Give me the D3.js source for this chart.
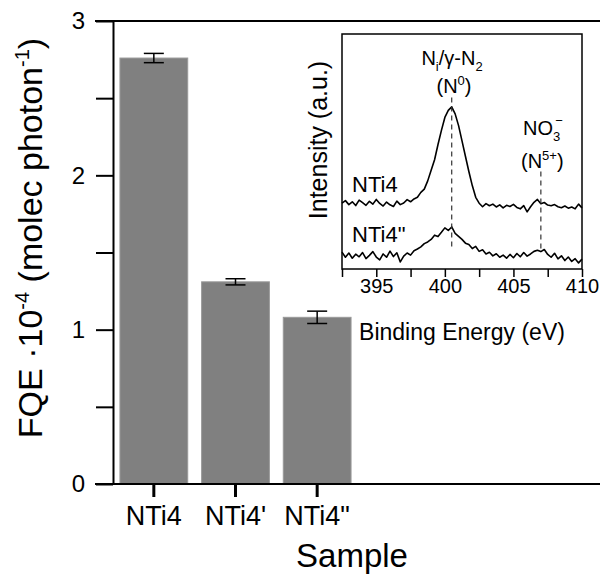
<!DOCTYPE html>
<html>
<head>
<meta charset="utf-8">
<script src="https://cdnjs.cloudflare.com/ajax/libs/d3/7.8.5/d3.min.js"></script>
<style>
  body { margin: 0; background: #fff; }
  #chart { width: 600px; height: 579px; }
  text { font-family: "Liberation Sans", Arial, sans-serif; fill: #000; }
</style>
</head>
<body>
<div id="chart"></div>
<script>
// main bar chart data
const samples = ["NTi4", "NTi4'", "NTi4\""];
const fqe = [2.76, 1.31, 1.08];
const fqeErr = [0.03, 0.02, 0.04];
const yTicks = [0, 0.5, 1, 1.5, 2, 2.5, 3];

// inset XPS spectra (N 1s)
const energy = [392.5, 392.75, 393, 393.25, 393.5, 393.75, 394, 394.25, 394.5, 394.75,
  395, 395.25, 395.5, 395.75, 396, 396.25, 396.5, 396.75, 397, 397.25,
  397.5, 397.75, 398, 398.25, 398.5, 398.75, 399, 399.25, 399.5, 399.75,
  400, 400.25, 400.5, 400.75, 401, 401.25, 401.5, 401.75, 402, 402.25,
  402.5, 402.75, 403, 403.25, 403.5, 403.75, 404, 404.25, 404.5, 404.75,
  405, 405.25, 405.5, 405.75, 406, 406.25, 406.5, 406.75, 407, 407.25,
  407.5, 407.75, 408, 408.25, 408.5, 408.75, 409, 409.25, 409.5, 409.75, 410];
const nti4 = [28.0, 29.1, 27.4, 28.6, 27.0, 29.3, 28.2, 27.1, 28.8, 27.6,
  29.6, 27.9, 26.8, 28.5, 27.3, 26.6, 28.9, 27.4, 28.1, 29.5,
  28.6, 29.8, 30.5, 32.6, 34.0, 37.5, 42.0, 46.5, 53.0, 59.0,
  64.5, 67.5, 69.0, 66.0, 61.0, 54.5, 48.0, 41.5, 35.5, 30.5,
  28.0, 26.5, 27.8, 26.9, 27.6, 26.4, 27.3, 26.0, 27.1, 26.6,
  27.5, 26.2, 25.6, 27.0, 24.3, 26.5, 28.4, 29.6, 27.8, 28.3,
  27.2, 26.9, 27.4, 26.5, 26.1, 26.8, 25.9, 26.4, 25.6, 27.6, 26.0];
const nti4b = [7.2, 5.0, 6.8, 4.6, 6.3, 5.2, 7.0, 4.4, 5.8, 7.4,
  5.1, 3.9, 6.4, 5.0, 7.6, 5.3, 6.9, 3.0, 5.5, 6.8,
  5.9, 7.8, 8.5, 9.4, 10.8, 11.5, 12.6, 14.4, 13.8, 15.6,
  17.5, 16.4, 17.9, 15.2, 13.9, 12.6, 11.0, 10.4, 8.7, 9.6,
  7.5, 8.2, 6.4, 7.1, 5.6, 6.5, 5.0, 5.9, 4.6, 6.2,
  4.8, 6.6, 5.2, 7.0, 5.5, 6.4, 7.5, 8.0, 7.4, 8.3,
  6.2, 5.0, 6.7, 4.3, 5.6, 3.6, 5.1, 3.2, 4.4, 2.6, 4.2];
const insetTicks = [392.5, 395, 397.5, 400, 402.5, 405, 407.5, 410];
const insetLabels = [395, 400, 405, 410];
const markerEnergy = [400.5, 407];
const markerTop = [73, 41.5];
const markerBottom = [8, 8];

const svg = d3.select("#chart").append("svg")
  .attr("width", 600)
  .attr("height", 579);

const y = d3.scaleLinear().domain([0, 3]).range([484, 21]);
const x = d3.scaleBand().domain(samples).range([113, 358])
  .paddingInner(0.17).paddingOuter(0.085);

// bars
svg.selectAll(".bar")
  .data(samples)
  .join("rect")
  .attr("class", "bar")
  .attr("x", d => x(d))
  .attr("width", x.bandwidth())
  .attr("y", (d, i) => y(fqe[i]))
  .attr("height", (d, i) => y(0) - y(fqe[i]))
  .attr("fill", "#808080")
  .attr("stroke", "#9a9a9a")
  .attr("stroke-width", 1);

// error bars
const err = svg.selectAll(".err")
  .data(samples)
  .join("g")
  .attr("class", "err")
  .attr("stroke", "#000")
  .attr("stroke-width", 1.5);
err.append("line")
  .attr("x1", d => x(d) + x.bandwidth() / 2)
  .attr("x2", d => x(d) + x.bandwidth() / 2)
  .attr("y1", (d, i) => y(fqe[i] - fqeErr[i]))
  .attr("y2", (d, i) => y(fqe[i] + fqeErr[i]));
[-1, 1].forEach(s => {
  err.append("line")
    .attr("x1", d => x(d) + x.bandwidth() / 2 - 10)
    .attr("x2", d => x(d) + x.bandwidth() / 2 + 10)
    .attr("y1", (d, i) => y(fqe[i] + s * fqeErr[i]))
    .attr("y2", (d, i) => y(fqe[i] + s * fqeErr[i]));
});

// y axis
svg.append("g")
  .attr("transform", "translate(113,0)")
  .call(d3.axisLeft(y).tickValues(yTicks).tickSize(17).tickSizeOuter(0).tickPadding(11)
    .tickFormat(d => Number.isInteger(d) ? d : ""))
  .call(g => g.attr("font-size", 24).attr("font-family", null))
  .call(g => g.selectAll("line, path").attr("stroke", "#000").attr("stroke-width", 2));

// top and bottom frame lines
svg.append("line")
  .attr("x1", 95).attr("x2", 600)
  .attr("y1", y(3)).attr("y2", y(3))
  .attr("stroke", "#000").attr("stroke-width", 2);
svg.append("line")
  .attr("x1", 95).attr("x2", 600)
  .attr("y1", y(0)).attr("y2", y(0))
  .attr("stroke", "#000").attr("stroke-width", 2);

// x axis
svg.append("g")
  .attr("transform", `translate(0,${y(0)})`)
  .call(d3.axisBottom(x).tickSize(13).tickSizeOuter(0).tickPadding(9))
  .call(g => g.select(".domain").remove())
  .call(g => g.attr("font-size", 27).attr("font-family", null))
  .call(g => g.selectAll("line").attr("stroke", "#000").attr("stroke-width", 3));

svg.append("text")
  .attr("x", 352)
  .attr("y", 567)
  .attr("text-anchor", "middle")
  .style("font-size", "33px")
  .text("Sample");

const yTitle = svg.append("text")
  .attr("transform", "translate(42,238) rotate(-90)")
  .attr("text-anchor", "middle")
  .style("font-size", "34px");
yTitle.append("tspan").text("FQE \u00b710");
yTitle.append("tspan").attr("dy", -13).style("font-size", "20px").text("-4");
yTitle.append("tspan").attr("dy", 13).text(" (molec photon");
yTitle.append("tspan").attr("dy", -13).style("font-size", "20px").text("-1");
yTitle.append("tspan").attr("dy", 13).text(")");

// ---- inset ----
const ix = d3.scaleLinear().domain([392.5, 410]).range([342, 582]);
const iy = d3.scaleLinear().domain([0, 100]).range([269, 34]);
const inset = svg.append("g");

inset.append("rect")
  .attr("x", 342).attr("y", 34)
  .attr("width", 240).attr("height", 235)
  .attr("fill", "#fff")
  .attr("stroke", "#000")
  .attr("stroke-width", 1.5);

inset.append("g")
  .attr("transform", "translate(0,269)")
  .call(d3.axisBottom(ix).tickValues(insetTicks).tickSize(8).tickSizeOuter(0).tickPadding(2)
    .tickFormat(d => insetLabels.includes(d) ? d : ""))
  .call(g => g.select(".domain").remove())
  .call(g => g.attr("font-size", 20).attr("font-family", null))
  .call(g => g.selectAll("line").attr("stroke", "#000").attr("stroke-width", 1.5));

const line = d3.line()
  .x((d, i) => ix(energy[i]))
  .y(d => iy(d));

[nti4, nti4b].forEach(s => {
  inset.append("path")
    .datum(s)
    .attr("d", line)
    .attr("fill", "none")
    .attr("stroke", "#000")
    .attr("stroke-width", 1.6)
    .attr("stroke-linejoin", "round");
});

markerEnergy.forEach((e, i) => {
  inset.append("line")
    .attr("x1", ix(e)).attr("x2", ix(e))
    .attr("y1", iy(markerTop[i])).attr("y2", iy(markerBottom[i]))
    .attr("stroke", "#333")
    .attr("stroke-width", 1.2)
    .attr("stroke-dasharray", "5,4");
});

inset.append("text").attr("x", 352).attr("y", 192).style("font-size", "22px").text("NTi4");
inset.append("text").attr("x", 352).attr("y", 242).style("font-size", "22px").text("NTi4\"");

const n0 = inset.append("text").attr("x", 452).attr("y", 65)
  .attr("text-anchor", "middle").style("font-size", "20px");
n0.append("tspan").text("N");
n0.append("tspan").attr("dy", 6).style("font-size", "13px").text("i");
n0.append("tspan").attr("dy", -6).text("/\u03b3-N");
n0.append("tspan").attr("dy", 6).style("font-size", "13px").text("2");

const n0b = inset.append("text").attr("x", 454).attr("y", 93)
  .attr("text-anchor", "middle").style("font-size", "20px");
n0b.append("tspan").text("(N");
n0b.append("tspan").attr("dy", -8).style("font-size", "13px").text("0");
n0b.append("tspan").attr("dy", 8).text(")");

const no3 = inset.append("text").attr("x", 523).attr("y", 135).style("font-size", "20px");
no3.append("tspan").text("NO");
no3.append("tspan").attr("dy", 6).style("font-size", "13px").text("3");
no3.append("tspan").attr("dx", -5).attr("dy", -16).style("font-size", "13px").text("\u2212");

const n5 = inset.append("text").attr("x", 521).attr("y", 168).style("font-size", "20px");
n5.append("tspan").text("(N");
n5.append("tspan").attr("dy", -8).style("font-size", "13px").text("5+");
n5.append("tspan").attr("dy", 8).text(")");

inset.append("text")
  .attr("x", 462).attr("y", 340)
  .attr("text-anchor", "middle")
  .style("font-size", "23px")
  .text("Binding Energy (eV)");

inset.append("text")
  .attr("transform", "translate(327,140) rotate(-90)")
  .attr("text-anchor", "middle")
  .style("font-size", "25px")
  .text("Intensity (a.u.)");
</script>
</body>
</html>
